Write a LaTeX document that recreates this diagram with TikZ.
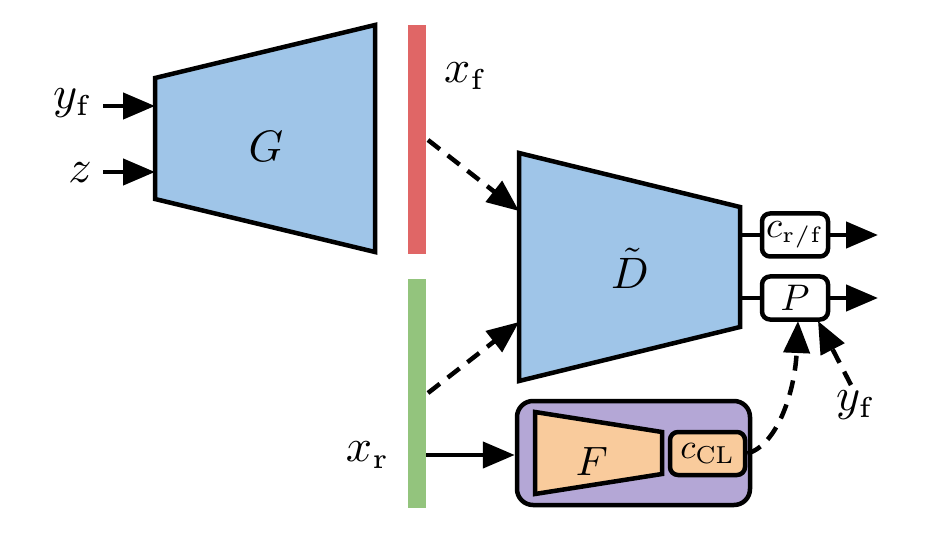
\documentclass[tikz,border=0pt]{standalone}
\usepackage{graphicx}
\usetikzlibrary{arrows.meta}
\definecolor{gblue}{RGB}{159,197,232}
\definecolor{gred}{RGB}{224,102,102}
\definecolor{ggreen}{RGB}{147,196,125}
\definecolor{gpurple}{RGB}{180,167,214}
\definecolor{gorange}{RGB}{249,203,156}
\newcommand\mylbl[1]{\scalebox{4.6}{$#1$}}
\newcommand\mybox[1]{\scalebox{3.7}{$#1$}}
\newcommand\mybig[1]{\scalebox{4.4}{$#1$}}
\newcommand\sub[1]{_{\scalebox{1.25}{$\scriptscriptstyle\mathrm{#1}$}}}
\newcommand\boxsub[1]{_{\scalebox{1.2}{$\scriptscriptstyle\mathrm{#1}$}}}
\tikzset{
  lbl/.style={inner sep=0pt},
  smallbox/.style={draw, rounded corners=8pt, minimum width=66pt, minimum height=43pt, inner sep=0pt},
  arr/.style={-{Triangle[length=32pt,width=26pt]}},
  dsh/.style={dash pattern=on 15pt off 10pt},
  bar/.style={minimum width=18pt, minimum height=229pt, inner sep=0pt}
}
\begin{document}
\begin{tikzpicture}[x=1pt,y=-1pt,line width=4.5pt]
\useasboundingbox (0,0) rectangle (950,545);
% Generator
\draw[fill=gblue] (155,78) -- (375,25) -- (375,252) -- (155,199) -- cycle;
\node[lbl] (G) at (266,146) {\mybig{G}};
\coordinate (Gin1) at (155,106);
\coordinate (Gin2) at (155,172);
\node[lbl] (yf1) at (73,103) {\mylbl{y\sub{f}}};
\node[lbl] (z) at (80,173) {\mylbl{z}};
\draw[arr] (103,106) -- (Gin1);
\draw[arr] (103,172) -- (Gin2);
% bars
\node[bar, fill=gred] (xf) at (417,139.5) {};
\node[bar, fill=ggreen] (xr) at (417,393.5) {};
\node[lbl] (xflab) at (466,76) {\mylbl{x\sub{f}}};
\node[lbl] (xrlab) at (368,455) {\mylbl{x\sub{r}}};
% Discriminator
\draw[fill=gblue] (519,153) -- (740,207) -- (740,327) -- (519,381) -- cycle;
\node[lbl] (D) at (630,268) {\mybig{\tilde{D}}};
\coordinate (Din1) at (519,211);
\coordinate (Din2) at (519,322);
\coordinate (Dout1) at (740,235);
\coordinate (Dout2) at (740,298);
\node[smallbox, fill=white] (crf) at (795,235) {\mybox{c\boxsub{r/f}}};
\node[smallbox, fill=white] (P) at (795,298) {\mybox{P}};
\draw (Dout1) -- (crf.west);
\draw (Dout2) -- (P.west);
\coordinate (o1) at (878,235);
\coordinate (o2) at (878,298);
\draw[arr] (crf.east) -- (o1);
\draw[arr] (P.east) -- (o2);
% F box
\node[draw, rounded corners=16pt, fill=gpurple, minimum width=233pt, minimum height=104pt, inner sep=0pt] (Fbox) at (633.5,453) {};
\draw[fill=gorange] (535,412) -- (662,432) -- (662,474) -- (535,494) -- cycle;
\node[lbl] (F) at (592,461) {\scalebox{4.1}{$F$}};
\node[smallbox, fill=gorange, minimum width=75pt] (ccl) at (707.5,453.5) {\scalebox{3.5}{$c_{\scriptstyle\mathrm{CL}}$}};
% connectors
\coordinate (xfo) at (428,140);
\coordinate (xro) at (428,393);
\coordinate (xro2) at (426,455);
\draw[arr,dsh] (xfo) -- (Din1);
\draw[arr,dsh] (xro) -- (Din2);
\draw[arr] (xro2) -- (xro2 -| Fbox.west);
\node[lbl] (yf2) at (856,405) {\mylbl{y\sub{f}}};
\draw[arr,dsh] (ccl.east) .. controls (778,445) and (795,390) .. (798,321);
\draw[arr,dsh] (851,385) -- (818,321);
\end{tikzpicture}
\end{document}
